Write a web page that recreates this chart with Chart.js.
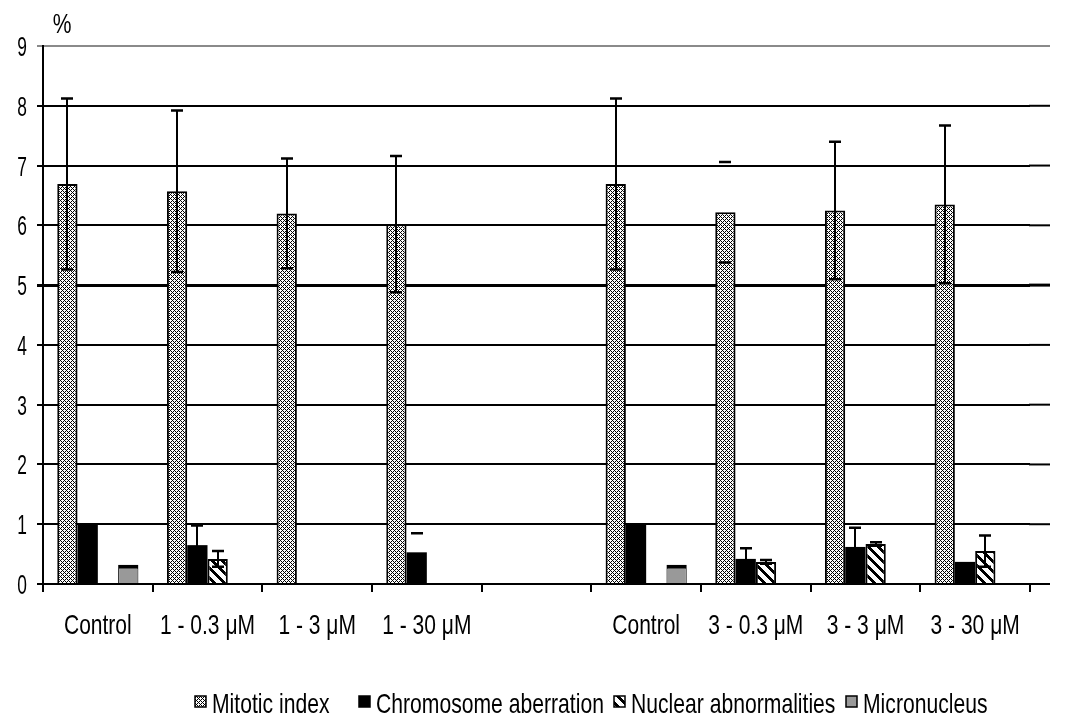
<!DOCTYPE html>
<html>
<head>
<meta charset="utf-8">
<script src="https://cdn.jsdelivr.net/npm/chart.js@4"></script>
<style>
  html, body { margin: 0; padding: 0; background: #fff; }
  #wrap { width: 1068px; height: 723px; }
</style>
</head>
<body>
<div id="wrap"><canvas id="c" width="1068" height="723"></canvas></div>
<script>
// Categories (the blank slot separates the two treatment groups)
const categories = ['Control', '1 - 0.3 μM', '1 - 3 μM', '1 - 30 μM', '', 'Control', '3 - 0.3 μM', '3 - 3 μM', '3 - 30 μM'];
const seriesNames = ['Mitotic index', 'Chromosome aberration', 'Nuclear abnormalities', 'Micronucleus'];

// Values, %
const mitoticIndex         = [6.69, 6.57, 6.20, 6.02, null, 6.69, 6.22, 6.25, 6.35];
const chromosomeAberration = [1.00, 0.65, null, 0.53, null, 1.00, 0.42, 0.62, 0.37];
const nuclearAbnormalities = [null, 0.42, null, null, null, null, 0.37, 0.67, 0.55];
const micronucleus         = [0.32, null, null, null, null, 0.32, null, null, null];

// Standard deviations (symmetric)
const mitoticErr      = [1.43, 1.35, 0.92, 1.14, null, 1.43, 0.84, 1.15, 1.32];
const chromosomeErr   = [0, 0.33, 0, 0.32, null, 0, 0.18, 0.32, 0];
const nuclearErr      = [0, 0.13, 0, 0, null, 0, 0.03, 0.03, 0.26];
const micronucleusErr = [0, 0, 0, 0, null, 0, 0, 0, 0];

// Error bars whose whisker is not drawn, only the caps: [series, category]
const capOnlyBars = [[0, 6], [1, 3]];

const yTicks = [0, 1, 2, 3, 4, 5, 6, 7, 8, 9];

const FONT = "'Liberation Sans', Arial, sans-serif";

// Draw text squeezed horizontally (narrow face)
function narrowText(ctx, text, x, y, size, sx, align) {
  ctx.save();
  ctx.font = size + 'px ' + FONT;
  ctx.textBaseline = 'alphabetic';
  ctx.textAlign = align;
  ctx.translate(x, y);
  ctx.scale(sx, 1);
  ctx.fillText(text, 0, 0);
  ctx.restore();
}

// Fill patterns
function makePattern(size, draw) {
  const c = document.createElement('canvas');
  c.width = size; c.height = size;
  const g = c.getContext('2d');
  g.fillStyle = '#fff';
  g.fillRect(0, 0, size, size);
  g.fillStyle = '#000';
  draw(g, size);
  return document.createElement('canvas').getContext('2d').createPattern(c, 'repeat');
}
// fine dashed backslash hatch
const hatchFine = makePattern(8, (g, s) => {
  for (let y = 0; y < s; y++) for (let x = 0; x < s; x++) {
    const d = (x - y + 16) % 4;
    if (d === 0 || (d === 2 && (x + y) % 4 < 2)) g.fillRect(x, y, 1, 1);
  }
});
// wide backslash stripes
const hatchWide = makePattern(10, (g, s) => {
  for (let y = 0; y < s; y++) for (let x = 0; x < s; x++) {
    if ((x - y + 20) % 10 < 4) g.fillRect(x, y, 1, 1);
  }
});

const fills = [hatchFine, '#000', hatchWide, '#999999'];
const errorSets = [mitoticErr, chromosomeErr, nuclearErr, micronucleusErr];

const errorBars = {
  id: 'errorBars',
  afterDatasetsDraw(chart) {
    const ctx = chart.ctx, ys = chart.scales.y;
    ctx.save();
    ctx.strokeStyle = '#000';
    errorSets.forEach((errs, di) => {
      const meta = chart.getDatasetMeta(di);
      const vals = chart.data.datasets[di].data;
      meta.data.forEach((bar, i) => {
        const e = errs[i], v = vals[i];
        if (!e || v == null) return;
        const x = Math.round(bar.x);
        const top = ys.getPixelForValue(v + e);
        const bot = ys.getPixelForValue(v - e);
        const capOnly = capOnlyBars.some(p => p[0] === di && p[1] === i);
        if (!capOnly) {
          ctx.lineWidth = 2;
          ctx.beginPath();
          ctx.moveTo(x, top); ctx.lineTo(x, bot);
          ctx.stroke();
        }
        ctx.lineWidth = 2.5;
        ctx.beginPath();
        ctx.moveTo(x - 6, top); ctx.lineTo(x + 6, top);
        ctx.moveTo(x - 6, bot); ctx.lineTo(x + 6, bot);
        ctx.stroke();
      });
    });
    ctx.restore();
  }
};

// Gridlines run a little past the last category
const gridTail = {
  id: 'gridTail',
  beforeDatasetsDraw(chart) {
    const ctx = chart.ctx, ys = chart.scales.y, a = chart.chartArea;
    ctx.save();
    yTicks.forEach(v => {
      const y = ys.getPixelForValue(v);
      ctx.strokeStyle = v === 9 ? '#8a8a8a' : '#000';
      ctx.lineWidth = v === 5 ? 3 : 2;
      ctx.beginPath();
      ctx.moveTo(a.right - 1, y); ctx.lineTo(a.right + 20, y);
      ctx.stroke();
    });
    ctx.restore();
  }
};

// Axis labels, unit label and legend row, set in a narrow face
const legendX = [195, 359, 614, 846];
const labels = {
  id: 'labels',
  afterDraw(chart) {
    const ctx = chart.ctx, a = chart.chartArea, xs = chart.scales.x, ys = chart.scales.y;
    ctx.save();
    ctx.fillStyle = '#000';

    // y tick labels
    ys.ticks.forEach(t => {
      const y = ys.getPixelForValue(t.value);
      narrowText(ctx, String(t.value), a.left - 16, y + 10, 28, 0.62, 'right');
    });

    // x tick labels
    categories.forEach((c, i) => {
      if (!c) return;
      narrowText(ctx, c, xs.getPixelForTick(i), 634, 28, 0.75, 'center');
    });

    // unit
    narrowText(ctx, '%', a.left + 19, 33, 27, 0.78, 'center');

    // legend
    const base = 713, box = 11;
    seriesNames.forEach((n, i) => {
      const x = legendX[i];
      ctx.fillStyle = fills[i];
      ctx.fillRect(x, base - 17, box, box);
      ctx.strokeStyle = '#000';
      ctx.lineWidth = 1.5;
      ctx.strokeRect(x, base - 17, box, box);
      ctx.fillStyle = '#000';
      narrowText(ctx, n, x + 17, base, 28, 0.755, 'left');
    });
    ctx.restore();
  }
};

const datasets = [
  { label: seriesNames[0], data: mitoticIndex, backgroundColor: hatchFine, borderColor: '#000', borderWidth: 2, borderSkipped: 'bottom' },
  { label: seriesNames[1], data: chromosomeAberration, backgroundColor: '#000', borderWidth: 0 },
  { label: seriesNames[2], data: nuclearAbnormalities, backgroundColor: hatchWide, borderColor: '#000', borderWidth: 2, borderSkipped: 'bottom' },
  { label: seriesNames[3], data: micronucleus, backgroundColor: '#999999', borderColor: '#000', borderWidth: { top: 4, left: 1, right: 1, bottom: 0 } }
];

new Chart(document.getElementById('c'), {
  type: 'bar',
  data: { labels: categories, datasets },
  options: {
    responsive: false,
    animation: false,
    devicePixelRatio: 1,
    layout: { padding: { top: 46, right: 38, left: 0, bottom: 0 } },
    datasets: { bar: { barPercentage: 1, categoryPercentage: 0.74 } },
    plugins: { legend: { display: false }, tooltip: { enabled: false } },
    scales: {
      x: {
        grid: { offset: true, drawOnChartArea: false, drawTicks: true, tickLength: 8, color: '#000', lineWidth: 2 },
        border: { display: true, color: '#000', width: 2 },
        ticks: { display: false, autoSkip: false },
        afterFit(s) { s.height = 139; }
      },
      y: {
        min: 0, max: 9,
        afterBuildTicks(s) { s.ticks = yTicks.map(v => ({ value: v })); },
        grid: {
          color: c => c.tick && c.tick.value === 9 ? '#8a8a8a' : '#000',
          lineWidth: c => c.tick && c.tick.value === 5 ? 3 : 2,
          tickLength: 6
        },
        border: { display: true, color: '#000', width: 2 },
        ticks: { display: false },
        afterFit(s) { s.width = 43; }
      }
    }
  },
  plugins: [gridTail, errorBars, labels]
});
</script>
</body>
</html>
